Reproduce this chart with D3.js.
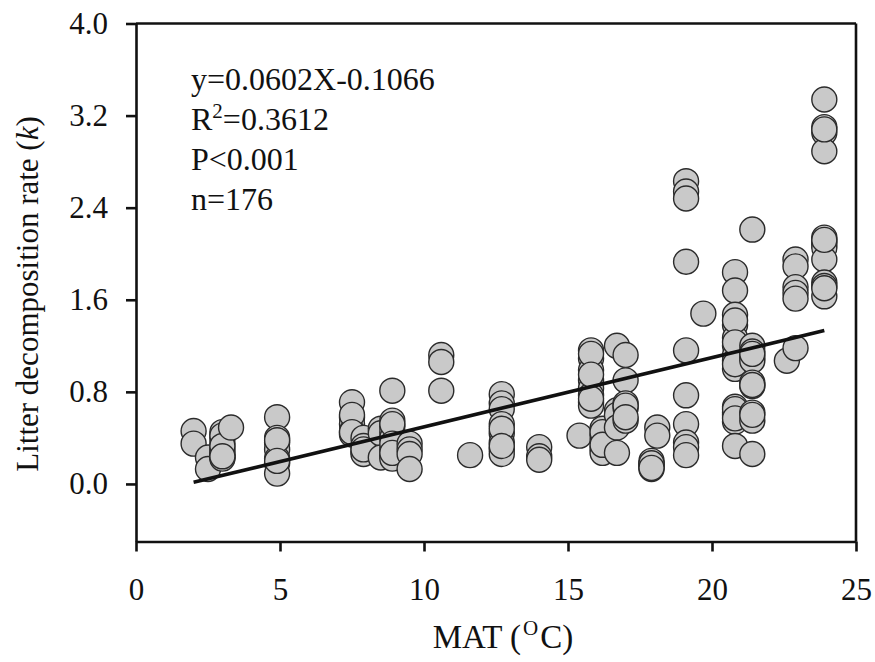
<!DOCTYPE html>
<html>
<head>
<meta charset="utf-8">
<script src="https://cdn.jsdelivr.net/npm/d3@7"></script>
<style>
  body { margin: 0; background: #fff; }
  text { font-family: "Liberation Serif", "Times New Roman", serif; fill: #111; }
</style>
</head>
<body>
<div id="chart"></div>
<script type="text/javascript">
// MAT groups (oC) and the litter decomposition rates
var matValues = [2.0, 2.5, 3.0, 3.3, 4.9, 7.5, 7.9, 8.5, 8.9, 9.5, 10.6, 11.6, 12.7, 14.0,
                 15.4, 15.8, 16.2, 16.7, 17.0, 17.9, 18.1, 19.1, 19.7, 20.8, 21.4, 22.6, 22.9, 23.9];
var kValues = [
  [0.46, 0.35],
  [0.23, 0.13],
  [0.45, 0.40, 0.35, 0.30, 0.27, 0.25, 0.23, 0.22, 0.42, 0.33, 0.24],
  [0.49],
  [0.58, 0.40, 0.36, 0.30, 0.22, 0.18, 0.09, 0.38, 0.20],
  [0.71, 0.58, 0.52, 0.46, 0.43, 0.60, 0.45],
  [0.40, 0.33, 0.28, 0.26, 0.30],
  [0.48, 0.44, 0.23],
  [0.81, 0.55, 0.50, 0.45, 0.40, 0.30, 0.25, 0.22, 0.52, 0.35, 0.27],
  [0.35, 0.30, 0.26, 0.13],
  [1.12, 1.06, 0.81],
  [0.25],
  [0.78, 0.70, 0.65, 0.52, 0.44, 0.36, 0.30, 0.26, 0.48, 0.33],
  [0.32, 0.24, 0.21],
  [0.42],
  [1.16, 1.09, 0.99, 0.90, 0.83, 0.77, 0.71, 0.68, 1.13, 0.95, 0.74],
  [0.48, 0.42, 0.37, 0.31, 0.27, 0.45, 0.34],
  [1.20, 0.64, 0.60, 0.49, 0.27],
  [1.12, 0.90, 0.70, 0.66, 0.55, 0.68, 0.58],
  [0.20, 0.17, 0.15, 0.13, 0.18, 0.14],
  [0.49, 0.42],
  [2.63, 2.54, 2.48, 1.93, 1.16, 0.77, 0.52, 0.36, 0.32, 0.25],
  [1.48],
  [1.84, 1.68, 1.47, 1.38, 1.27, 1.20, 1.12, 1.07, 1.00, 0.67, 0.62, 0.60, 0.54, 0.33, 1.42, 1.23, 1.04, 0.65, 0.57],
  [2.21, 1.20, 1.15, 1.10, 1.07, 0.88, 0.85, 0.62, 0.55, 0.26, 1.13, 0.86, 0.60],
  [1.07],
  [1.95, 1.89, 1.71, 1.66, 1.61, 1.18],
  [3.34, 3.10, 3.05, 2.89, 2.14, 2.11, 2.08, 2.05, 1.95, 1.75, 1.72, 1.63, 2.12, 3.08, 1.70]
];
var fitSlope = 0.0602, fitIntercept = -0.1066, fitRange = [2.0, 23.9];
var statLines = ["y=0.0602X-0.1066", "R2=0.3612", "P<0.001", "n=176"];
var xTicks = [0, 5, 10, 15, 20, 25];
var yTicks = [0.0, 0.8, 1.6, 2.4, 3.2, 4.0];

var points = [];
matValues.forEach(function(m, i) {
  kValues[i].forEach(function(k) { points.push({mat: m, k: k}); });
});

var width = 875, height = 662;
var plotLeft = 136, plotRight = 856, plotTop = 23.5, plotBottom = 541.5;

var svg = d3.select("#chart").append("svg")
    .attr("width", width)
    .attr("height", height);

var x = d3.scaleLinear().domain([0, 25]).range([plotLeft, plotRight]);
var y = d3.scaleLinear().domain([-0.5, 4.0]).range([plotBottom, plotTop]);

// points
svg.append("g").selectAll("circle")
    .data(points)
  .enter().append("circle")
    .attr("cx", function(d) { return x(d.mat); })
    .attr("cy", function(d) { return y(d.k); })
    .attr("r", 12.5)
    .attr("fill", "#c9c9c9")
    .attr("stroke", "#2b2b2b")
    .attr("stroke-width", 1.4);

// regression line
svg.append("line")
    .attr("x1", x(fitRange[0])).attr("y1", y(fitSlope * fitRange[0] + fitIntercept))
    .attr("x2", x(fitRange[1])).attr("y2", y(fitSlope * fitRange[1] + fitIntercept))
    .attr("stroke", "#111")
    .attr("stroke-width", 3.6);

// axes
var xAxis = svg.append("g")
    .attr("transform", "translate(0," + plotBottom + ")")
    .call(d3.axisBottom(x).tickValues(xTicks).tickSize(10).tickSizeOuter(0).tickPadding(26));
var yAxis = svg.append("g")
    .attr("transform", "translate(" + plotLeft + ",0)")
    .call(d3.axisLeft(y).tickValues(yTicks).tickFormat(d3.format(".1f")).tickSize(10).tickSizeOuter(0).tickPadding(18));

[xAxis, yAxis].forEach(function(a) {
  a.selectAll("path, line").attr("stroke", "#111").attr("stroke-width", 2.6);
  a.selectAll("text").attr("font-size", 31).attr("fill", "#111")
    .style("font-family", "'Liberation Serif', serif");
});

// top and right frame
svg.append("line").attr("x1", plotLeft).attr("x2", plotRight).attr("y1", plotTop).attr("y2", plotTop)
    .attr("stroke", "#111").attr("stroke-width", 2.6);
svg.append("line").attr("x1", plotRight).attr("x2", plotRight).attr("y1", plotTop).attr("y2", plotBottom)
    .attr("stroke", "#111").attr("stroke-width", 2.6);

// stats text
var stats = svg.append("g").attr("font-size", 32);
statLines.forEach(function(s, i) {
  var t = stats.append("text").attr("x", 191).attr("y", 90 + i * 40);
  if (s.indexOf("R2") === 0) {
    t.append("tspan").text("R");
    t.append("tspan").attr("font-size", 21).attr("dy", -12).text("2");
    t.append("tspan").attr("dy", 12).text(s.slice(2));
  } else {
    t.text(s);
  }
});

// axis titles
var xt = svg.append("text")
    .attr("x", 503)
    .attr("y", 648)
    .attr("text-anchor", "middle")
    .attr("font-size", 33);
xt.append("tspan").text("MAT (");
xt.append("tspan").attr("font-size", 21).attr("dy", -13).attr("dx", 2).text("O");
xt.append("tspan").attr("dy", 13).attr("dx", 2).text("C)");

var yt = svg.append("text")
    .attr("transform", "translate(38," + 294 + ") rotate(-90)")
    .attr("text-anchor", "middle")
    .attr("font-size", 31);
yt.append("tspan").text("Litter decomposition rate (");
yt.append("tspan").attr("font-style", "italic").text("k");
yt.append("tspan").text(")");
</script>
</body>
</html>
